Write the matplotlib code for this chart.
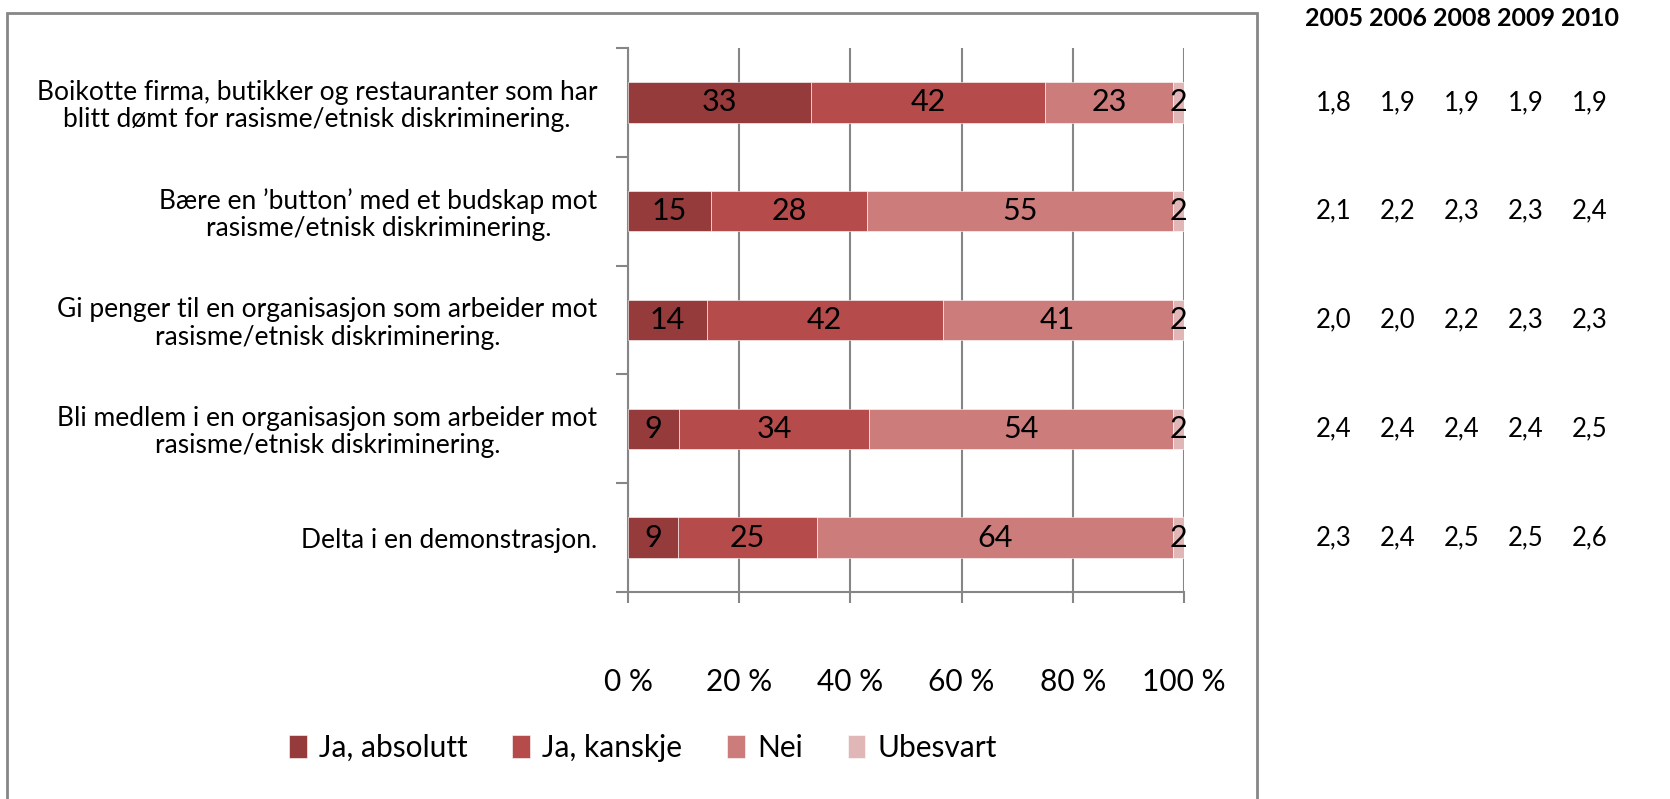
import matplotlib.pyplot as plt
from matplotlib.patches import Rectangle
import numpy as np

plt.rcParams['font.family'] = ['Lato', 'DejaVu Sans']

kategorier = [
    'Boikotte firma, butikker og restauranter som har\nblitt dømt for rasisme/etnisk diskriminering.',
    'Bære en ’button’ med et budskap mot\nrasisme/etnisk diskriminering.',
    'Gi penger til en organisasjon som arbeider mot\nrasisme/etnisk diskriminering.',
    'Bli medlem i en organisasjon som arbeider mot\nrasisme/etnisk diskriminering.',
    'Delta i en demonstrasjon.',
]
serier = ['Ja, absolutt', 'Ja, kanskje', 'Nei', 'Ubesvart']
ja_absolutt = [33, 15, 14, 9, 9]
ja_kanskje = [42, 28, 42, 34, 25]
nei = [23, 55, 41, 54, 64]
ubesvart = [2, 2, 2, 2, 2]
farger = ['#963B3B', '#B54B4A', '#CC7C7B', '#E1B6B6']

aar = ['2005', '2006', '2008', '2009', '2010']
snitt = [
    ['1,8', '1,9', '1,9', '1,9', '1,9'],
    ['2,1', '2,2', '2,3', '2,3', '2,4'],
    ['2,0', '2,0', '2,2', '2,3', '2,3'],
    ['2,4', '2,4', '2,4', '2,4', '2,5'],
    ['2,3', '2,4', '2,5', '2,5', '2,6'],
]

W, H = 1670, 799
fig = plt.figure(figsize=(W / 100, H / 100), dpi=100)
ax = fig.add_axes([628 / W, 1 - 592 / H, 556 / W, 544 / H])

data = np.array([ja_absolutt, ja_kanskje, nei, ubesvart], dtype=float)
pst = data / data.sum(axis=0) * 100
y = np.arange(len(kategorier))
venstre = np.zeros(len(kategorier))
for i, navn in enumerate(serier):
    ax.barh(y, pst[i], left=venstre, height=0.37, color=farger[i], label=navn,
            edgecolor='white', linewidth=0.4, zorder=3)
    for j in range(len(kategorier)):
        ax.text(venstre[j] + pst[i][j] / 2, y[j], str(int(data[i][j])),
                ha='center', va='center', fontsize=22, color='black', zorder=4)
    venstre += pst[i]

ax.set_xlim(0, 100)
ax.set_ylim(4.5, -0.5)
ax.set_xticks(range(0, 101, 20))
ax.set_xticklabels([f'{v} %' for v in range(0, 101, 20)], fontsize=21.5)
ax.tick_params(axis='x', length=8, width=1.5, color='#868686', pad=47)
ax.set_yticks(y)
ax.set_yticklabels(kategorier, fontsize=19, multialignment='center', linespacing=1.1)
ax.set_yticks(np.arange(-0.5, 5, 1), minor=True)
ax.tick_params(axis='y', which='major', length=0, pad=22)
ax.tick_params(axis='y', which='minor', length=9, width=1.5, color='#868686')
ax.grid(axis='x', color='#868686', linewidth=1.5, zorder=0)
for s in ['top', 'right']:
    ax.spines[s].set_visible(False)
for s in ['left', 'bottom']:
    ax.spines[s].set_color('#868686')
    ax.spines[s].set_linewidth(1.5)

ax.legend(loc='center', bbox_to_anchor=(643 / W, 1 - 748 / H), bbox_transform=fig.transFigure,
          ncol=4, frameon=False, fontsize=21.5, handlelength=0.6, handleheight=0.8,
          handletextpad=0.4, columnspacing=1.5)

# ramme rundt diagrammet
fig.patches.append(Rectangle((7 / W, -0.05), (1257 - 7) / W, 1.05 - 13 / H,
                             transform=fig.transFigure, fill=False,
                             edgecolor='#868686', linewidth=2))

# tabell med snitt til hoyre
kol_x = [1334, 1398, 1462, 1526, 1590]
for k, a in enumerate(aar):
    fig.text(kol_x[k] / W, 1 - 19 / H, a, ha='center', va='center', fontsize=18, fontweight='bold')
for j in range(len(kategorier)):
    yy = ax.transData.transform((0, y[j]))[1] / H
    for k in range(len(aar)):
        fig.text(kol_x[k] / W, yy, snitt[j][k], ha='center', va='center', fontsize=18.5)

fig.savefig('out.png', dpi=100)
